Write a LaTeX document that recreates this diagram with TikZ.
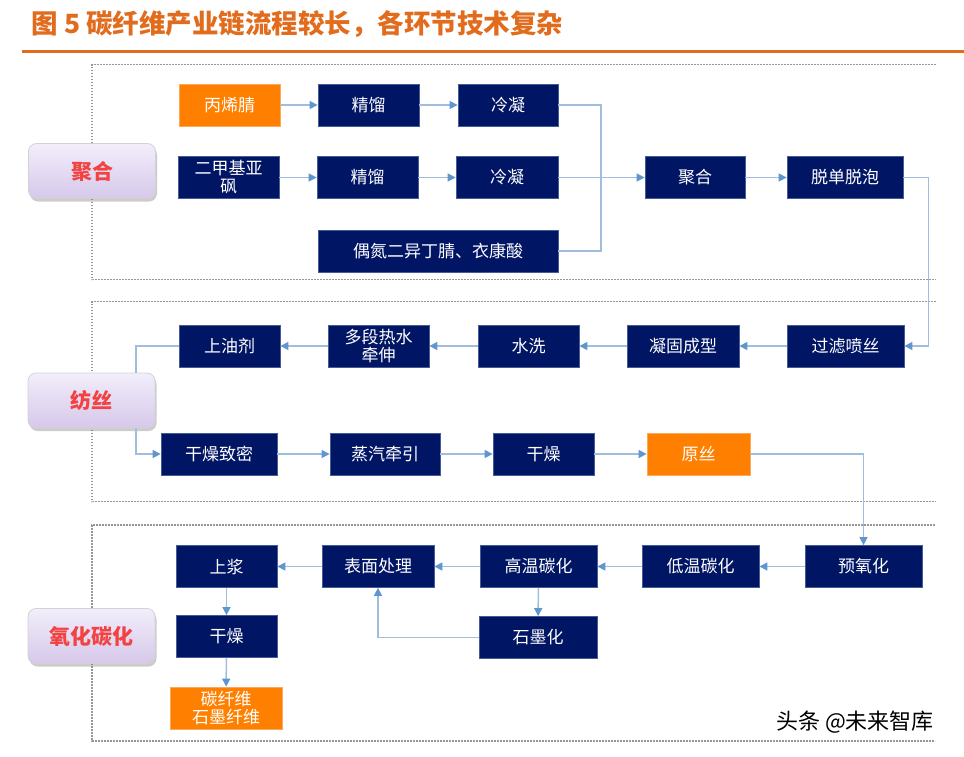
\documentclass[tikz,border=0pt]{standalone}
\usepackage{fontspec}
\setmainfont{Noto Sans CJK SC}
\usetikzlibrary{arrows.meta,shadows}
\definecolor{navy}{RGB}{0,21,100}
\definecolor{navyedge}{RGB}{70,90,150}
\definecolor{keyorange}{RGB}{255,128,0}
\definecolor{keyedge}{RGB}{250,170,90}
\definecolor{titleorange}{RGB}{226,108,30}
\definecolor{stagered}{RGB}{242,66,66}
\definecolor{stagetop}{RGB}{242,238,251}
\definecolor{stagebottom}{RGB}{214,200,234}
\definecolor{framegray}{RGB}{150,150,150}
\definecolor{lineblue}{RGB}{160,190,220}
\definecolor{tipblue}{RGB}{95,150,205}
\begin{document}
\begin{tikzpicture}[x=1pt,y=-1pt,
    proc node/.style={rectangle,draw=navyedge,line width=0.8pt,fill=navy,text=white,
        inner sep=0pt,minimum height=42pt,align=center,font=\fontsize{17}{20}\selectfont},
    key node/.style={proc node,fill=keyorange,draw=keyedge},
    stage node/.style={rectangle,rounded corners=8pt,draw=gray!35,line width=0.8pt,
        top color=stagetop,bottom color=stagebottom,text=stagered,
        minimum width=127pt,minimum height=55pt,font=\fontsize{21}{24}\selectfont\bfseries,
        drop shadow={opacity=0.4,shadow xshift=1.5pt,shadow yshift=-3pt}},
    frame line/.style={draw=framegray,line width=1.5pt,dash pattern=on 1.6pt off 1.4pt},
    flow line/.style={draw=lineblue,line width=1.5pt},
    flow arrow/.style={flow line,-{Triangle[length=8pt,width=8pt,color=tipblue]}}]

    \useasboundingbox (0,0) rectangle (964,756);
    \fill[white] (0,0) rectangle (964,756);

    % Title
    \node[anchor=west,text=titleorange,font=\fontsize{26.5}{30}\selectfont\bfseries] (title) at (28,24)
        {图 5 碳纤维产业链流程较长，各环节技术复杂};
    \draw[titleorange,line width=3pt] (22,51) -- (964,51);

    % Frames
    \draw[frame line] (936,64.5) -- (92,64.5) -- (92,279.5) -- (936,279.5);
    \draw[frame line] (936,301.5) -- (92,301.5) -- (92,501.5) -- (936,501.5);
    \draw[frame line] (935,525) -- (92,525) -- (92,741) -- (935,741);

    % Stages
    \node[stage node] (jh0) at (92,171) {聚合};
    \node[stage node] (fs) at (91.5,400.5) {纺丝};
    \node[stage node] (yhth) at (91.5,636) {氧化碳化};

    % Polymerization
    \node[key node,minimum width=101pt] (pan) at (229.5,105) {丙烯腈};
    \node[proc node,minimum width=101pt] (jl1) at (368.5,105) {精馏};
    \node[proc node,minimum width=100pt] (ln1) at (508,105) {冷凝};
    \node[proc node,minimum width=101pt] (dmso) at (228.5,177.5) {二甲基亚\\[-2pt]砜};
    \node[proc node,minimum width=101pt] (jl2) at (367.5,177.5) {精馏};
    \node[proc node,minimum width=102pt] (ln2) at (507,177.5) {冷凝};
    \node[proc node,minimum width=240pt] (azo) at (438,251) {偶氮二异丁腈、衣康酸};
    \node[proc node,minimum width=100pt] (jh) at (695,177.5) {聚合};
    \node[proc node,minimum width=116pt] (tdtp) at (845,177.5) {脱单脱泡};
    \coordinate (m) at (601,177.5);

    % Spinning
    \node[proc node,minimum width=117pt] (glps) at (845.5,346) {过滤喷丝};
    \node[proc node,minimum width=112pt] (ngcx) at (683,346) {凝固成型};
    \node[proc node,minimum width=101pt] (sx) at (528.5,346) {水洗};
    \node[proc node,minimum width=101pt] (dd) at (378.5,346) {多段热水\\[-2pt]牵伸};
    \node[proc node,minimum width=101pt] (syj) at (229.5,346) {上油剂};
    \node[proc node,minimum width=116pt] (gzzm) at (219,454) {干燥致密};
    \node[proc node,minimum width=110pt] (zqqy) at (385,454) {蒸汽牵引};
    \node[proc node,minimum width=101pt] (gz1) at (543.5,454) {干燥};
    \node[key node,minimum width=103pt] (ys) at (698.5,454) {原丝};

    % Oxidation and carbonization
    \node[proc node,minimum width=117pt] (yyh) at (863.5,566.5) {预氧化};
    \node[proc node,minimum width=117pt] (dwth) at (700.5,566.5) {低温碳化};
    \node[proc node,minimum width=117pt] (gwth) at (538.5,566.5) {高温碳化};
    \node[proc node,minimum width=112pt] (bmcl) at (378,566.5) {表面处理};
    \node[proc node,minimum width=101pt] (sj) at (226.5,566.5) {上浆};
    \node[proc node,minimum width=101pt] (gz2) at (226.5,636.5) {干燥};
    \node[key node,minimum width=112pt] (cxw) at (226,708) {碳纤维\\[-2pt]石墨纤维};
    \node[proc node,minimum width=118pt] (smh) at (538,637.5) {石墨化};

    % Connectors
    \draw[flow arrow] (pan) -- (jl1);
    \draw[flow arrow] (jl1) -- (ln1);
    \draw[flow arrow] (dmso) -- (jl2);
    \draw[flow arrow] (jl2) -- (ln2);
    \draw[flow line] (ln1.east) -| (m);
    \draw[flow line] (azo.east) -| (m);
    \draw[flow arrow] (ln2) -- (jh);
    \draw[flow arrow] (jh) -- (tdtp);
    \draw[flow arrow] (tdtp.east) -- ++(25,0) |- (glps.east);
    \draw[flow arrow] (glps) -- (ngcx);
    \draw[flow arrow] (ngcx) -- (sx);
    \draw[flow arrow] (sx) -- (dd);
    \draw[flow arrow] (dd) -- (syj);
    \draw[flow line] (syj.west) -| ([xshift=44.5pt]fs.north);
    \draw[flow arrow] ([xshift=44.5pt]fs.south) |- (gzzm.west);
    \draw[flow arrow] (gzzm) -- (zqqy);
    \draw[flow arrow] (zqqy) -- (gz1);
    \draw[flow arrow] (gz1) -- (ys);
    \draw[flow arrow] (ys.east) -| (yyh.north);
    \draw[flow arrow] (yyh) -- (dwth);
    \draw[flow arrow] (dwth) -- (gwth);
    \draw[flow arrow] (gwth) -- (bmcl);
    \draw[flow arrow] (bmcl) -- (sj);
    \draw[flow arrow] (sj) -- (gz2);
    \draw[flow arrow] (gz2) -- (cxw);
    \draw[flow arrow] (gwth) -- (smh);
    \draw[flow arrow] (smh.west) -| (bmcl.south);

    % Watermark
    \node[font=\fontsize{22}{24}\selectfont] (wm) at (855,722) {头条 @未来智库};

\end{tikzpicture}
\end{document}
